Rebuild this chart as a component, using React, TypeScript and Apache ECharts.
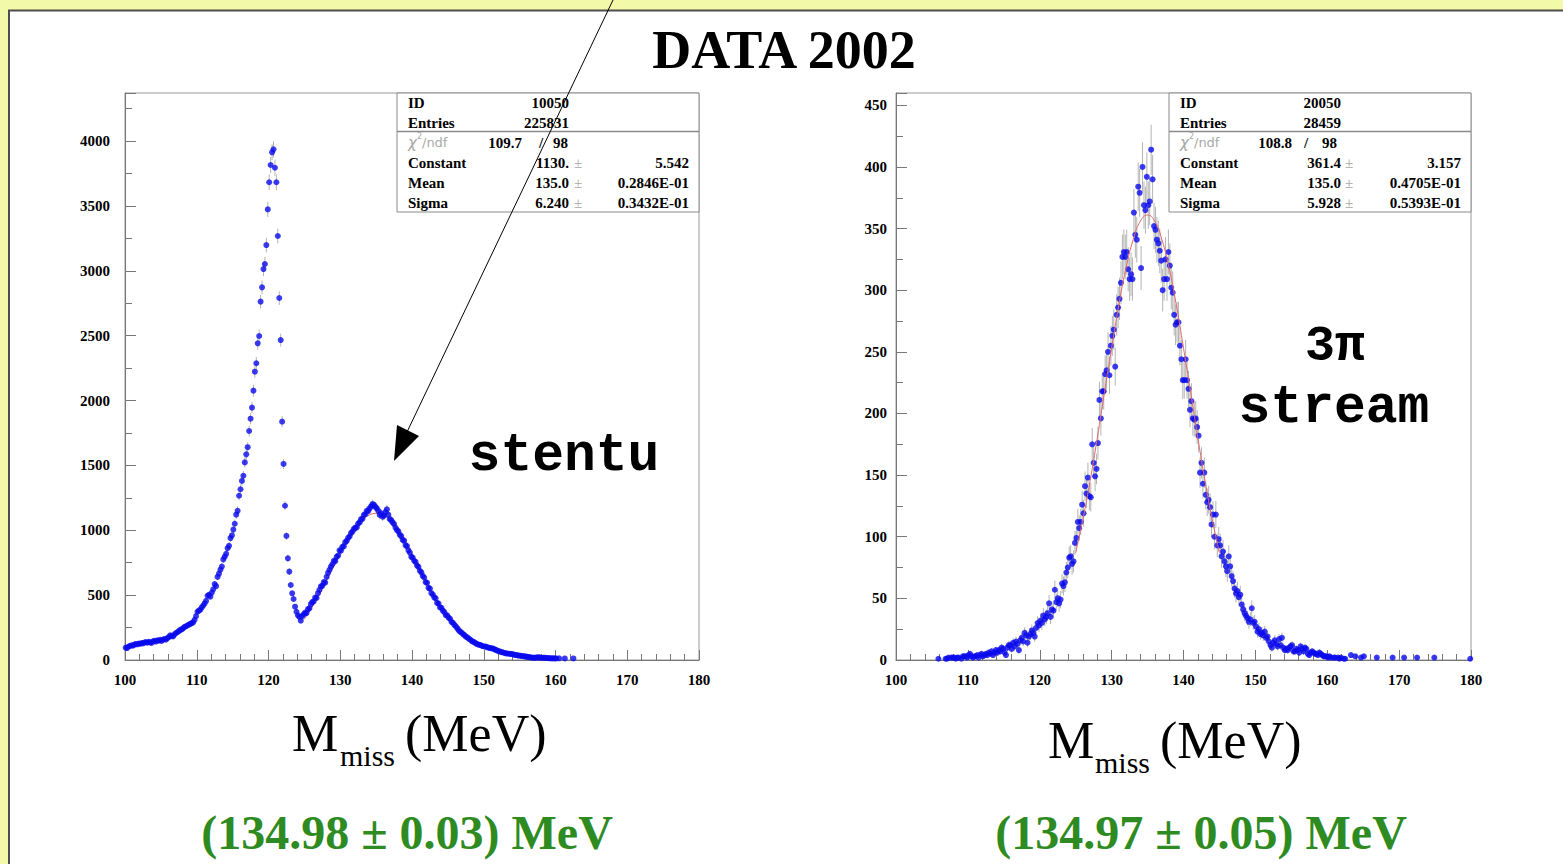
import React, { useEffect, useRef } from "react";
import * as echarts from "echarts";

const _ = null;

// histogram binning (MeV): bin centres 100.1, 100.3, ... 179.9
const BIN_START = 100.1;
const BIN_WIDTH = 0.2;

// ---- left histogram (stentu), counts per 0.2 MeV bin, 10 MeV per array ----
const left100 = [
  95, 92, 104, 108, 113, 110, 118, 124, 120, 127,
  125, 131, 128, 135, 138, 133, 140, 136, 131, 144,
  148, 142, 152, 149, 155, 147, 158, 162, 157, 168,
  176, 190, 184, 181, 197, 208, 214, 222, 232, 236,
  244, 255, 260, 266, 272, 279, 284, 290, 310, 338,
];
const left110 = [
  372, 380, 388, 405, 420, 436, 455, 495, 502, 488,
  520, 545, 585, 570, 640, 665, 696, 720, 775, 796,
  818, 862, 880, 940, 960, 1005, 1050, 1120, 1150, 1266,
  1316, 1380, 1420, 1523, 1585, 1640, 1765, 1860, 1945, 2076,
  2222, 2287, 2441, 2497, 2762, 2872, 3013, 3052, 3198, 3473,
];
const left120 = [
  3682, 3815, 3913, 3936, 3794, 3682, 3268, 2790, 2466, 1837,
  1511, 1189, 956, 784, 681, 578, 514, 470, 411, 372,
  345, 332, 303, 338, 352, 365, 362, 392, 398, 430,
  446, 452, 481, 478, 515, 540, 568, 572, 600, 596,
  640, 672, 695, 720, 738, 765, 762, 795, 805, 845,
];
const left130 = [
  842, 872, 876, 908, 918, 942, 952, 978, 990, 1010,
  1020, 1022, 1052, 1060, 1085, 1088, 1118, 1125, 1150, 1148,
  1169, 1185, 1202, 1195, 1180, 1169, 1150, 1118, 1130, 1105,
  1112, 1140, 1161, 1120, 1085, 1079, 1060, 1048, 1020, 1002,
  992, 965, 955, 925, 920, 884, 878, 845, 828, 795,
];
const left140 = [
  790, 765, 756, 728, 718, 688, 676, 648, 636, 600,
  595, 556, 550, 515, 505, 482, 475, 440, 435, 405,
  402, 380, 370, 346, 345, 326, 318, 294, 287, 271,
  260, 245, 230, 218, 212, 200, 192, 180, 175, 165,
  158, 148, 141, 136, 128, 122, 118, 116, 110, 106,
];
const left150 = [
  104, 103, 98, 95, 92, 90, 88, 82, 78, 72,
  68, 64, 60, 58, 54, 51, 50, 48, 47, 46,
  44, 40, 38, 36, 34, 33, 31, 29, 28, 26,
  24, 22, 21, 19, 18, 18, 19, 20, 20, 19,
  17, 18, 18, 16, 15, 14, 13, 13, 13, 12,
];
const left160 = [12, _, 13, _, _, _, 12, _, _, _, _, _, 12];

// ---- right histogram (3pi stream) ----
const right100 = [
  _, _, _, _, _, _, _, _, _, _,
  _, _, _, _, _, _, _, _, _, _,
  _, _, _, _, _, _, _, _, _, 1,
  _, _, _, _, 1, 1, 2, _, 2, 2,
  2, 1, 2, 2, _, 1, 3, 3, 3, 2,
];
const right110 = [
  4, 5, 3, 2, 3, 3, 4, 2, 4, 5,
  3, 4, 5, 4, 6, 5, 7, 4, 6, 8,
  6, 8, 7, 10, 9, 6, 4, 10, 12, 12,
  9, 14, 11, 15, 13, 8, 16, 18, 15, 22,
  20, 14, 19, 21, 24, 22, 19, 26, 30, 28,
];
const right120 = [
  32, 30, 36, 33, 35, 38, 46, 35, 41, 40,
  57, 47, 50, 46, 49, 62, 60, 63, 71, 75,
  83, 84, 78, 80, 95, 99, 112, 107, 112, 126,
  119, 141, 135, 148, 133, 132, 175, 160, 149, 155,
  176, 211, 196, 218, 218, 232, 235, 250, 231, 255,
];
const right130 = [
  263, 268, 238, 280, 286, 293, 306, 327, 331, 327,
  331, 317, 309, 313, 309, 363, 345, 341, 384, 379,
  318, 400, 369, 365, 392, 369, 372, 414, 390, 352,
  349, 341, 338, 332, 324, 300, 309, 325, 309, 331,
  320, 302, 298, 280, 272, 274, 274, 255, 244, 227,
];
const right140 = [
  227, 244, 227, 220, 203, 210, 196, 195, 196, 189,
  182, 152, 160, 143, 152, 134, 128, 130, 124, 110,
  118, 100, 118, 93, 98, 93, 84, 88, 80, 76,
  72, 84, 76, 68, 64, 58, 54, 56, 51, 53,
  45, 41, 38, 36, 34, 31, 33, 42, 30, 31,
];
const right150 = [
  27, 23, 25, 21, 22, 20, 23, 18, 19, 15,
  12, 10, 14, 16, 13, 11, 17, 12, 18, 10,
  8, 9, 8, 10, 11, 12, 7, 7, 9, 8,
  6, 11, 9, 7, 10, 9, 5, 4, 6, 7,
  6, 5, 5, 4, 6, 5, 4, 3, 3, 3,
];
const right160 = [
  2, 3, 2, _, 2, 2, _, 2, 1, 2,
  _, 1, 1, _, _, _, 4, _, _, 3,
  _, _, _, 2, _, 3, _, _, _, _,
  _, _, _, _, 2, _, _, _, _, _,
  _, _, _, _, _, 2, _, _, _, _,
];
const right170 = [
  _, _, _, 2, _, _, _, _, _, _,
  _, _, 2, _, _, _, _, _, _, _,
  _, _, _, _, 2, _, _, _, _, _,
  _, _, _, _, _, _, _, _, _, _,
  _, _, _, _, _, _, _, _, _, 1,
];

// Gaussian fit curves (sampled, fit range 125-145 MeV)
const fitX = [125, 126, 127, 128, 129, 130, 131, 132, 133, 134, 135, 136, 137, 138, 139, 140, 141, 142, 143, 144, 145];
const leftFit = [313, 400, 497, 602, 712, 820, 920, 1007, 1073, 1116, 1130, 1116, 1073, 1007, 920, 820, 712, 602, 497, 400, 313];
const rightFit = [87, 114, 145, 180, 217, 253, 288, 318, 341, 356, 361, 356, 341, 318, 288, 253, 217, 180, 145, 114, 87];

// axis tick values
const xMin = 100;
const xMax = 180;
const xStep = 10;
const leftYStep = 500;
const rightYStep = 50;

// stat boxes
const leftStats = { id: "10050", entries: "225831", chi2: "109.7", ndf: "98", constant: ["1130.", "5.542"], mean: ["135.0", "0.2846E-01"], sigma: ["6.240", "0.3432E-01"] };
const rightStats = { id: "20050", entries: "28459", chi2: "108.8", ndf: "98", constant: ["361.4", "3.157"], mean: ["135.0", "0.4705E-01"], sigma: ["5.928", "0.5393E-01"] };

const leftCounts = [...left100, ...left110, ...left120, ...left130, ...left140, ...left150, ...left160];
const rightCounts = [...right100, ...right110, ...right120, ...right130, ...right140, ...right150, ...right160, ...right170];

const SERIF = '"Liberation Serif", "Times New Roman", Times, serif';
const MONO = '"Liberation Mono", "Courier New", Courier, monospace';
const SANS = '"DejaVu Sans", "Liberation Sans", sans-serif';

function toPairs(counts: (number | null)[]) {
  const out: number[][] = [];
  counts.forEach((v, i) => {
    if (v !== null && v !== undefined) out.push([+(BIN_START + i * BIN_WIDTH).toFixed(2), v]);
  });
  return out;
}

function errBar(params: any, api: any) {
  const x = api.value(0);
  const y = api.value(1);
  const e = Math.sqrt(y);
  const a = api.coord([x, Math.max(0, y - e)]);
  const b = api.coord([x, y + e]);
  return {
    type: "line",
    shape: { x1: a[0], y1: a[1], x2: b[0], y2: b[1] },
    style: { stroke: "#b4b4b4", lineWidth: 1 },
  };
}

function mkX(gridIndex: number) {
  return {
    type: "value",
    gridIndex,
    min: xMin,
    max: xMax,
    interval: xStep,
    axisLine: { show: true, lineStyle: { color: "#777", width: 1 } },
    axisTick: { show: true, inside: true, length: 10, lineStyle: { color: "#777" } },
    minorTick: { show: true, splitNumber: 5, length: 6, lineStyle: { color: "#777" } },
    splitLine: { show: false },
    minorSplitLine: { show: false },
    axisLabel: { fontFamily: SERIF, fontWeight: "bold", fontSize: 15, color: "#000", margin: 12 },
  };
}

function mkY(gridIndex: number, max: number, step: number, margin: number) {
  return {
    type: "value",
    gridIndex,
    min: 0,
    max,
    interval: step,
    axisLine: { show: true, lineStyle: { color: "#777", width: 1 } },
    axisTick: { show: true, inside: true, length: 11, lineStyle: { color: "#777" } },
    minorTick: { show: true, splitNumber: 2, length: 7, lineStyle: { color: "#777" } },
    splitLine: { show: false },
    minorSplitLine: { show: false },
    axisLabel: {
      fontFamily: SERIF,
      fontWeight: "bold",
      fontSize: 15,
      color: "#000",
      margin,
      formatter: (v: number) => (v % step === 0 ? String(v) : ""),
    },
  };
}

function statBox(x0: number, s: any, off: { chi: number; slash: number; ndf: number; pm: number }) {
  const els: any[] = [];
  const bold = { fontFamily: SERIF, fontWeight: "bold", fontSize: 15, fill: "#000", verticalAlign: "middle" };
  els.push({ type: "rect", z: 20, shape: { x: x0, y: 93, width: 302, height: 119 }, style: { fill: "#fff", stroke: "#8a8a8a", lineWidth: 1 } });
  els.push({ type: "line", z: 21, shape: { x1: x0, y1: 131.5, x2: x0 + 302, y2: 131.5 }, style: { stroke: "#8a8a8a", lineWidth: 1.5 } });
  const rows: [string, number][] = [["ID", 102.5], ["Entries", 122.5], ["Constant", 162.5], ["Mean", 182.5], ["Sigma", 202.5]];
  rows.forEach(([t, y]) => els.push({ type: "text", z: 21, style: { ...bold, text: t, x: x0 + 11, y, align: "left" } }));
  els.push({ type: "text", z: 21, style: { ...bold, text: s.id, x: x0 + 172, y: 102.5, align: "right" } });
  els.push({ type: "text", z: 21, style: { ...bold, text: s.entries, x: x0 + 172, y: 122.5, align: "right" } });
  // chi2/ndf row
  const gray = { fontFamily: SANS, fontWeight: "normal", fill: "#a8a8a8", verticalAlign: "middle", align: "left" };
  els.push({ type: "text", z: 21, style: { ...gray, text: "χ", fontSize: 15, fontStyle: "italic", x: x0 + 11, y: 143 } });
  els.push({ type: "text", z: 21, style: { ...gray, text: "2", fontSize: 8, x: x0 + 20, y: 136 } });
  els.push({ type: "text", z: 21, style: { ...gray, text: "/ndf", fontSize: 13, x: x0 + 25, y: 142.5 } });
  els.push({ type: "text", z: 21, style: { ...bold, text: s.chi2, x: x0 + off.chi, y: 142.5, align: "right" } });
  els.push({ type: "text", z: 21, style: { ...bold, text: "/", x: x0 + off.slash, y: 142.5, align: "center" } });
  els.push({ type: "text", z: 21, style: { ...bold, text: s.ndf, x: x0 + off.ndf, y: 142.5, align: "right" } });
  const vals: [string[], number][] = [[s.constant, 162.5], [s.mean, 182.5], [s.sigma, 202.5]];
  vals.forEach(([v, y]) => {
    els.push({ type: "text", z: 21, style: { ...bold, text: v[0], x: x0 + 172, y, align: "right" } });
    els.push({ type: "text", z: 21, style: { ...gray, fontFamily: SERIF, text: "±", fontSize: 15, x: x0 + off.pm, y, align: "center" } });
    els.push({ type: "text", z: 21, style: { ...bold, text: v[1], x: x0 + 292, y, align: "right" } });
  });
  return els;
}

function axisTitle(xM: number, xSub: number, xUnit: number, y: number) {
  const base = { fontFamily: SERIF, fontWeight: "normal", fill: "#000", verticalAlign: "middle", align: "left" };
  return [
    { type: "text", z: 10, style: { ...base, text: "M", fontSize: 52, x: xM, y } },
    { type: "text", z: 10, style: { ...base, text: "miss", fontSize: 30, x: xSub, y: y + 22 } },
    { type: "text", z: 10, style: { ...base, text: "(MeV)", fontSize: 52, x: xUnit, y } },
  ];
}

export default function App() {
  const ref = useRef<HTMLDivElement>(null);
  useEffect(() => {
    if (!ref.current) return;
    const chart = echarts.init(ref.current, null, { renderer: "svg" });
    const leftPairs = toPairs(leftCounts);
    const rightPairs = toPairs(rightCounts);

    const graphics: any[] = [
      // slide frame
      { type: "rect", z: 0, shape: { x: 0, y: 0, width: 1563, height: 10 }, style: { fill: "#f2f9a8" } },
      { type: "rect", z: 0, shape: { x: 0, y: 0, width: 8, height: 864 }, style: { fill: "#f2f9a8" } },
      { type: "line", z: 1, shape: { x1: 8, y1: 10.5, x2: 1563, y2: 10.5 }, style: { stroke: "#4d4d4d", lineWidth: 2 } },
      { type: "line", z: 1, shape: { x1: 9, y1: 10, x2: 9, y2: 864 }, style: { stroke: "#4d4d4d", lineWidth: 2 } },
      // title
      { type: "text", z: 10, style: { text: "DATA 2002", x: 784, y: 50, align: "center", verticalAlign: "middle", fontFamily: SERIF, fontWeight: "bold", fontSize: 54, fill: "#000" } },
      ...statBox(397, leftStats, { chi: 125, slash: 144, ndf: 171, pm: 181 }),
      ...statBox(1169, rightStats, { chi: 123, slash: 137, ndf: 168, pm: 180 }),
      // arrow
      { type: "line", z: 30, shape: { x1: 613, y1: 0, x2: 407, y2: 432 }, style: { stroke: "#000", lineWidth: 1 } },
      { type: "polygon", z: 30, shape: { points: [[394, 461], [397, 425], [419, 436]] }, style: { fill: "#000" } },
      // labels
      { type: "text", z: 10, style: { text: "stentu", x: 564, y: 456, align: "center", verticalAlign: "middle", fontFamily: MONO, fontWeight: "bold", fontSize: 53, fill: "#000" } },
      { type: "text", z: 10, style: { text: "3π", x: 1335, y: 346, align: "center", verticalAlign: "middle", fontFamily: MONO, fontWeight: "bold", fontSize: 50, fill: "#000" } },
      { type: "text", z: 10, style: { text: "stream", x: 1334, y: 408, align: "center", verticalAlign: "middle", fontFamily: MONO, fontWeight: "bold", fontSize: 53, fill: "#000" } },
      ...axisTitle(292, 340, 405, 733),
      ...axisTitle(1048, 1095, 1160, 740),
      { type: "text", z: 10, style: { text: "(134.98 ± 0.03) MeV", x: 407, y: 832, align: "center", verticalAlign: "middle", fontFamily: SERIF, fontWeight: "bold", fontSize: 48, fill: "#2e8b22" } },
      { type: "text", z: 10, style: { text: "(134.97 ± 0.05) MeV", x: 1201, y: 832, align: "center", verticalAlign: "middle", fontFamily: SERIF, fontWeight: "bold", fontSize: 48, fill: "#2e8b22" } },
    ];

    chart.setOption({
      animation: false,
      backgroundColor: "#ffffff",
      grid: [
        { left: 125, top: 93, width: 574, height: 567, show: true, borderColor: "#999", borderWidth: 1, backgroundColor: "transparent" },
        { left: 896, top: 93, width: 575, height: 567, show: true, borderColor: "#999", borderWidth: 1, backgroundColor: "transparent" },
      ],
      xAxis: [mkX(0), mkX(1)],
      yAxis: [mkY(0, 4370, leftYStep, 15), mkY(1, 460, rightYStep, 9)],
      series: [
        { type: "custom", xAxisIndex: 0, yAxisIndex: 0, data: leftPairs, renderItem: errBar, encode: { x: 0, y: 1 }, clip: true, silent: true, z: 2 },
        { type: "line", xAxisIndex: 0, yAxisIndex: 0, data: fitX.map((x, i) => [x, leftFit[i]]), smooth: true, showSymbol: false, lineStyle: { color: "#e06a6a", width: 1 }, silent: true, z: 3 },
        { type: "scatter", xAxisIndex: 0, yAxisIndex: 0, data: leftPairs, symbolSize: 6, itemStyle: { color: "#0a0aee" }, silent: true, z: 4 },
        { type: "custom", xAxisIndex: 1, yAxisIndex: 1, data: rightPairs, renderItem: errBar, encode: { x: 0, y: 1 }, clip: true, silent: true, z: 2 },
        { type: "scatter", xAxisIndex: 1, yAxisIndex: 1, data: rightPairs, symbolSize: 6, itemStyle: { color: "#0a0aee" }, silent: true, z: 4 },
        { type: "line", xAxisIndex: 1, yAxisIndex: 1, data: fitX.map((x, i) => [x, rightFit[i]]), smooth: true, showSymbol: false, lineStyle: { color: "#e06a6a", width: 1 }, silent: true, z: 5 },
      ],
      graphic: { elements: graphics },
    });
    return () => chart.dispose();
  }, []);
  return <div ref={ref} style={{ position: "absolute", left: 0, top: 0, width: 1563, height: 864 }} />;
}
